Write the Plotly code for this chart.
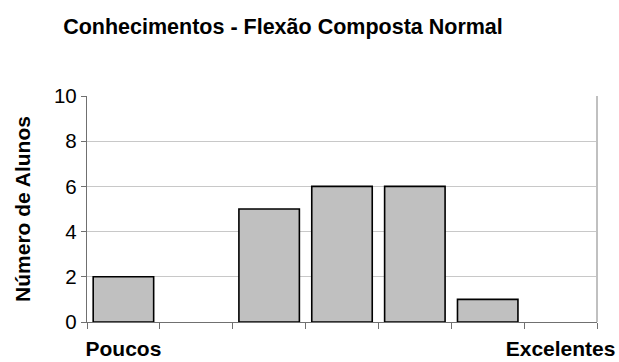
import plotly.graph_objects as go

title = "Conhecimentos - Flexão Composta Normal"
categories = ["1", "2", "3", "4", "5", "6", "7"]
values = [2, 0, 5, 6, 6, 1, 0]
tick_labels = ["Poucos", "", "", "", "", "", "Excelentes"]
y_ticks = [0, 2, 4, 6, 8, 10]
y_title = "Número de Alunos"

FONT = "Liberation Sans, Arial, sans-serif"

fig = go.Figure(go.Bar(
    x=categories, y=values,
    marker=dict(color="#c0c0c0",
                line=dict(color="black", width=[1.6 if v else 0 for v in values])),
    width=0.83,
))

fig.update_layout(
    width=619, height=362,
    margin=dict(l=87, r=22, t=96, b=40),
    paper_bgcolor="white", plot_bgcolor="white",
    font=dict(family=FONT, color="black"),
    showlegend=False,
    title=dict(text="<b>" + title + "</b>", x=283 / 619, xref="container", xanchor="center",
               y=1 - 26 / 362, yref="container", yanchor="middle",
               font=dict(size=21.5, family=FONT, color="black")),
)

fig.update_xaxes(
    type="category",
    tickmode="array", tickvals=categories, ticktext=["<b>" + t + "</b>" if t else "" for t in tick_labels],
    tickson="boundaries", ticks="outside", ticklen=6, tickcolor="#707070",
    showline=True, linecolor="#707070", linewidth=1.3,
    showgrid=False, tickfont=dict(size=21, family=FONT),
    tickangle=0, automargin=False,
    ticklabelstandoff=8,
    range=[-0.5, 6.5],
)
fig.update_yaxes(
    range=[0, 10], tickmode="array", tickvals=y_ticks,
    ticks="outside", ticklen=5, tickcolor="#707070",
    showline=True, linecolor="#707070", linewidth=1.3,
    showgrid=True, gridcolor="#c8c8c8", gridwidth=1,
    tickfont=dict(size=20.5, family=FONT), automargin=False,
    title=dict(text="<b>" + y_title + "</b>", font=dict(size=21, family=FONT), standoff=17),
    zeroline=False,
)
fig.add_shape(type="line", xref="paper", yref="paper", x0=1, x1=1, y0=0, y1=1,
              line=dict(color="#c0c0c0", width=2))

fig.write_html("out.html")
